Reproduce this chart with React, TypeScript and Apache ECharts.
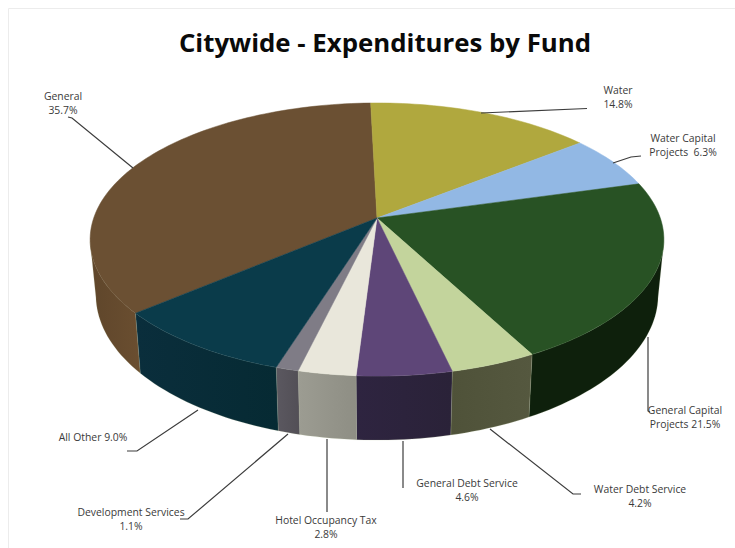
import React, { useEffect, useRef } from "react";
import * as echarts from "echarts";

const funds = ["General", "Water", "Water Capital Projects", "General Capital Projects", "Water Debt Service", "General Debt Service", "Hotel Occupancy Tax", "Development Services", "All Other"];
const shares = [35.7, 14.8, 6.3, 21.5, 4.2, 4.6, 2.8, 1.1, 9.0];
const topColors = ["#6b5033", "#b0a83e", "#92b8e4", "#285224", "#c3d49c", "#5e4678", "#e9e7db", "#7f7c86", "#0a3b4a"];
const wallFrom = ["#5f462b", "#8a8330", "#728fb2", "#0e200c", "#4f5239", "#2e2440", "#9c9c92", "#5b5860", "#0a2e3c"];
const wallTo = ["#6a4e30", "#8a8330", "#728fb2", "#0e200c", "#55583f", "#2a2238", "#8e8e84", "#524f56", "#062a33"];
const labelTexts = ["General\n35.7%", "Water\n14.8%", "Water Capital\nProjects  6.3%", "General Capital\nProjects 21.5%", "Water Debt Service\n4.2%", "General Debt Service\n4.6%", "Hotel Occupancy Tax\n2.8%", "Development Services\n1.1%", "All Other 9.0%"];
const labelCentres = [[63, 103], [618, 97], [683, 145], [685, 417], [640, 496], [467, 490], [326, 527], [131, 519], [93, 437]];
const leaderLines = [
  [[133, 168], [72, 118], [68, 117]],
  [[481, 113], [587, 108.5]],
  [[613, 163], [631, 157], [641, 156]],
  [[648, 337], [648, 411], [650, 412]],
  [[490, 429], [573, 494], [581, 494]],
  [[403, 441], [403, 488]],
  [[327, 439], [327, 512]],
  [[288, 434], [188, 519], [180, 519]],
  [[198, 410], [137, 451], [127, 451]],
];
const title = "Citywide - Expenditures by Fund";
const startDeg = 230;

// Perspective projection of the pie's disc on to the page.
const CX = 377, APEX_Y = 218, BASE_Y = 272, K = 283.3, SLOPE = 98.8, PERSP = -0.1575, BASE_X = 0.98;
const WALL_FROM_DEG = 100, WALL_TO_DEG = 260;
const rim = (deg: number, base: boolean) => {
  const t = (deg * Math.PI) / 180;
  const X = Math.sin(t), Y = -Math.cos(t);
  const d = 1 + PERSP * Y;
  const sx = (K * X) / d;
  return base
    ? [CX + BASE_X * sx, (BASE_Y + SLOPE * Y) / d]
    : [CX + sx, (APEX_Y + SLOPE * Y) / d];
};
const total = shares.reduce((a, b) => a + b, 0);
const span = (i: number) => {
  const before = shares.slice(0, i).reduce((a, b) => a + b, 0);
  const a0 = startDeg + (before / total) * 360;
  return [a0, a0 + (shares[i] / total) * 360];
};
// Angles are normalised so the front of the pie (100..260) is continuous.
const frontSpan = (i: number) => {
  const [a0, a1] = span(i).map((a) => (a >= 360 ? a - 360 : a));
  const lo = Math.max(a0, WALL_FROM_DEG);
  const hi = Math.min(a1 < a0 ? 360 : a1, WALL_TO_DEG);
  return hi > lo ? [lo, hi] : null;
};
const arc = (a0: number, a1: number, base: boolean) => {
  const n = Math.max(4, Math.ceil((a1 - a0) / 1.5));
  const pts: number[][] = [];
  for (let k = 0; k <= n; k++) pts.push(rim(a0 + ((a1 - a0) * k) / n, base));
  return pts;
};

export default function App() {
  const ref = useRef<HTMLDivElement>(null);
  useEffect(() => {
    document.body.style.margin = "0";
    const chart = echarts.init(ref.current!, null, { renderer: "svg" });
    const data = funds.map((name, i) => ({ name, value: shares[i] }));
    const font = "'Open Sans', sans-serif";
    chart.setOption({
      animation: false,
      backgroundColor: "#ffffff",
      title: {
        text: title,
        left: 380,
        top: 24,
        textAlign: "center",
        textStyle: { fontFamily: font, fontSize: 25.8, fontWeight: "bold", color: "#0a0a0a" },
      },
      series: [
        {
          type: "custom",
          coordinateSystem: "none",
          silent: true,
          z: 1,
          data,
          renderItem: (p: any) => {
            const i = p.dataIndex;
            const front = frontSpan(i);
            if (!front) return null;
            const top = arc(front[0], front[1], false);
            const bottom = arc(front[0], front[1], true).reverse();
            const xs = top.concat(bottom).map((q) => q[0]);
            return {
              type: "polygon",
              shape: { points: top.concat(bottom) },
              style: {
                fill: new echarts.graphic.LinearGradient(Math.min(...xs), 0, Math.max(...xs), 0, [
                  { offset: 0, color: wallFrom[i] },
                  { offset: 1, color: wallTo[i] },
                ], true),
                stroke: "rgba(190,200,160,0.3)",
                lineWidth: 0.6,
              },
            };
          },
        },
        {
          type: "custom",
          coordinateSystem: "none",
          silent: true,
          z: 2,
          data,
          renderItem: (p: any) => {
            const i = p.dataIndex;
            const [a0, a1] = span(i);
            return {
              type: "polygon",
              shape: { points: [[CX, APEX_Y], ...arc(a0, a1, false)] },
              style: { fill: topColors[i], stroke: topColors[i], lineWidth: 0.5 },
            };
          },
        },
      ],
      graphic: [
        { type: "line", z: 0, shape: { x1: 8.5, y1: 8.5, x2: 735, y2: 8.5 }, style: { stroke: "#ececec", lineWidth: 1 } },
        { type: "line", z: 0, shape: { x1: 8.5, y1: 8.5, x2: 8.5, y2: 548 }, style: { stroke: "#ececec", lineWidth: 1 } },
        ...leaderLines.map((points) => ({
          type: "polyline",
          z: 5,
          shape: { points },
          style: { stroke: "#3c3c3c", lineWidth: 1.2, fill: "none" },
        })),
        ...labelTexts.map((text, i) => ({
          type: "text",
          z: 6,
          x: labelCentres[i][0],
          y: labelCentres[i][1],
          style: {
            text,
            fill: "#3a3a3a",
            font: `10.4px ${font}`,
            lineHeight: 13.6,
            align: "center",
            verticalAlign: "middle",
          },
        })),
      ],
    });
    return () => chart.dispose();
  }, []);
  return <div ref={ref} style={{ position: "absolute", left: 0, top: 0, width: 735, height: 548 }} />;
}
